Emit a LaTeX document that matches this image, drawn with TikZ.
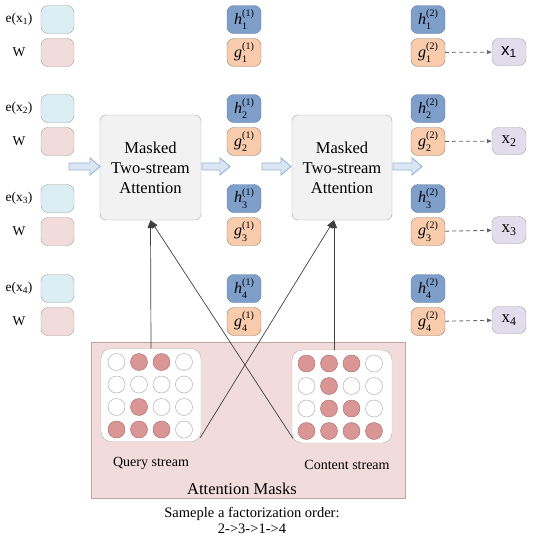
\documentclass[tikz,border=0pt]{standalone}
\usepackage{fontspec}
\setmainfont{Liberation Serif}
\newfontfamily\arialfont{Liberation Sans}
\usetikzlibrary{arrows.meta,calc}
\definecolor{eblue}{HTML}{DAEEF3}
\definecolor{wpink}{HTML}{F2DCDB}
\definecolor{hblue}{HTML}{7F9FCB}
\definecolor{hborder}{HTML}{5E7699}
\definecolor{gpeach}{HTML}{F8CBAD}
\definecolor{xpurple}{HTML}{E2DDEC}
\definecolor{maskfill}{HTML}{F2DCDB}
\definecolor{maskdraw}{HTML}{BFA3A3}
\definecolor{dotfill}{HTML}{D99694}
\definecolor{dotdraw}{HTML}{A36B6B}
\definecolor{arrfill}{HTML}{DCE6F2}
\definecolor{arrdraw}{HTML}{95B3D7}
\newcommand\hgl[3]{\textit{#1}\makebox[0pt][l]{\raisebox{-0.32em}{\fontsize{10}{10}\selectfont #2}}\raisebox{0.45em}{\fontsize{10}{10}\selectfont(#3)}}
\newcommand\bigarrow[3]{%
  \draw[bigarr] (#1,#3-3.5) -- (#2-10,#3-3.5) -- (#2-10,#3-8.5) -- (#2,#3) -- (#2-10,#3+8.5) -- (#2-10,#3+3.5) -- (#1,#3+3.5) -- cycle;}
\tikzset{
  cell/.style={draw=gray!75, rounded corners=7pt, minimum width=33pt, minimum height=28pt, inner sep=0pt},
  ebox/.style={cell, fill=eblue},
  wbox/.style={cell, fill=wpink},
  hbox/.style={cell, fill=hblue, draw=hborder, minimum width=34pt, font=\fontsize{16}{16}\selectfont},
  gbox/.style={cell, fill=gpeach, draw=gray!70!brown, minimum width=34pt, font=\fontsize{16}{16}\selectfont},
  xbox/.style={cell, fill=xpurple, draw=gray!75, minimum width=34pt, minimum height=27pt, font=\fontsize{17}{17}\selectfont},
  lbl/.style={font=\fontsize{13.5}{14}\selectfont, inner sep=0pt},
  mabox/.style={draw=gray!70, fill=gray!10, rounded corners=6pt, minimum height=105pt, align=center, font=\fontsize{16.5}{20}\selectfont},
  inbox/.style={draw=gray!60, fill=white, rounded corners=10pt, minimum width=100pt, minimum height=93pt},
  dot/.style={circle, draw=gray!70, fill=white, minimum size=17pt, inner sep=0pt},
  fdot/.style={dot, draw=dotdraw, fill=dotfill},
  conn/.style={draw=black!75, line width=0.7pt, -{Triangle[length=8pt,width=6pt]}},
  dasharr/.style={draw=black!60, line width=0.8pt, dash pattern=on 4pt off 3pt, -{Triangle[length=5pt,width=4pt]}},
  bigarr/.style={draw=arrdraw, fill=arrfill, line width=0.9pt, line join=miter},
}
\begin{document}
\begin{tikzpicture}[x=1pt,y=-1pt]
\useasboundingbox (0,0) rectangle (533,550);
% mask area
\node[draw=maskdraw, fill=maskfill, minimum width=314pt, minimum height=156pt, inner sep=0pt] (maskarea) at (248,420) {};
% left column
\foreach \r/\y in {1/19.5,2/108.5,3/198.5,4/288.5}{
  \node[ebox] (e\r) at (57.5,\y) {};
  \node[wbox] (w\r) at (57.5,\y+33) {};
  \node[lbl] (le\r) at (19,\y) {e(x\textsubscript{\r})};
  \node[lbl] (lw\r) at (19,\y+33) {W};
  \node[hbox] (h\r) at (244,\y) {\hgl{h}{\r}{1}};
  \node[gbox] (g\r) at (244,\y+33) {\hgl{g}{\r}{1}};
  \node[hbox] (hh\r) at (428,\y) {\hgl{h}{\r}{2}};
  \node[gbox] (gg\r) at (428,\y+33) {\hgl{g}{\r}{2}};
}
\node[xbox] (x1) at (509,52) {\arialfont x\textsubscript{1}};
\node[xbox] (x2) at (509,141) {x\textsubscript{2}};
\node[xbox] (x3) at (509,230) {x\textsubscript{3}};
\node[xbox] (x4) at (509,320) {x\textsubscript{4}};
\foreach \r in {1,2,3,4}{\draw[dasharr] (gg\r) -- (x\r);}
% masked attention boxes
\node[mabox, minimum width=101pt] (ma1) at (150.5,167.5) {Masked\\Two-stream\\Attention};
\node[mabox, minimum width=100pt] (ma2) at (342,167.5) {Masked\\Two-stream\\Attention};
% big arrows
\bigarrow{69}{100}{166.5}
\bigarrow{202}{230}{166.5}
\bigarrow{262}{291}{166.5}
\bigarrow{393}{422}{166.5}
% inner mask boxes
\node[inbox] (query) at (151,395) {};
\node[inbox] (content) at (342,396.5) {};
% query pattern
\foreach \rr/\row in {1/{0,1,1,0},2/{0,0,0,0},3/{0,1,0,0},4/{1,1,1,0}}{
  \foreach \v [count=\c] in \row {
    \ifnum\v=1
      \node[fdot] (q\rr\c) at (116.5+22.5*\c-22.5, 362+22.5*\rr-22.5) {};
    \else
      \node[dot] (q\rr\c) at (116.5+22.5*\c-22.5, 362+22.5*\rr-22.5) {};
    \fi
  }
}
\foreach \rr/\row in {1/{1,1,1,0},2/{0,1,0,0},3/{0,1,1,0},4/{1,1,1,1}}{
  \foreach \v [count=\c] in \row {
    \ifnum\v=1
      \node[fdot] (c\rr\c) at (306.5+22.5*\c-22.5, 363.5+22.5*\rr-22.5) {};
    \else
      \node[dot] (c\rr\c) at (306.5+22.5*\c-22.5, 363.5+22.5*\rr-22.5) {};
    \fi
  }
}
\node[font=\fontsize{14}{14}\selectfont] (ql) at (151,463) {Query stream};
\node[font=\fontsize{14}{14}\selectfont] (cl) at (347,465) {Content stream};
\node[font=\fontsize{16.5}{17}\selectfont] (aml) at (242,489) {Attention Masks};
% connectors
\coordinate (t2) at ([xshift=-8pt]ma2.south);
\draw[conn] (query.north) -- (ma1.south);
\draw[conn] ([xshift=-8pt]content.north) -- (t2);
\draw[conn] ([xshift=-1pt,yshift=4pt]query.south east) -- (t2);
\draw[conn] ([xshift=1pt,yshift=5pt]content.south west) -- (ma1.south);
% bottom caption
\node[font=\fontsize{14.5}{16}\selectfont, align=center] (cap) at (252,520) {Sameple a factorization order:\\2->3->1->4};
\end{tikzpicture}
\end{document}
